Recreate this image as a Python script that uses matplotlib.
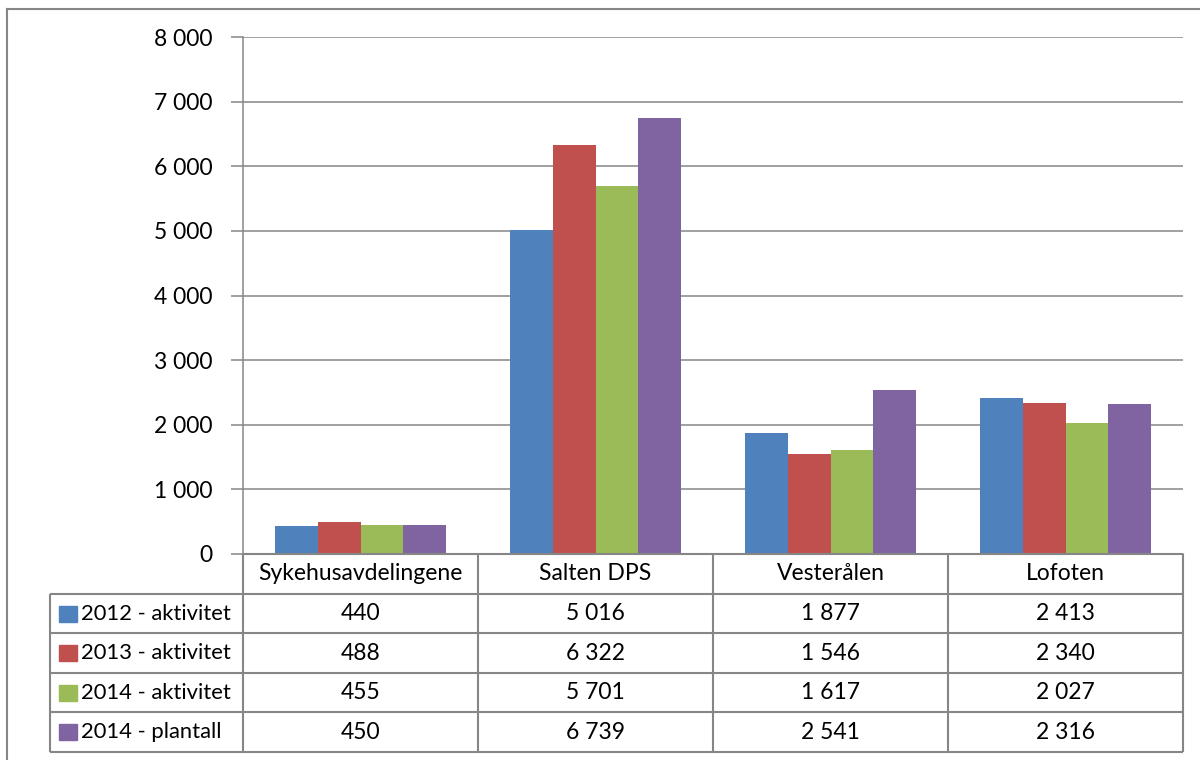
import matplotlib.pyplot as plt
from matplotlib.patches import Rectangle
from matplotlib.lines import Line2D

categories = ["Sykehusavdelingene", "Salten DPS", "Vesterålen", "Lofoten"]
series_names = ["2012 - aktivitet", "2013 - aktivitet", "2014 - aktivitet", "2014 - plantall"]
akt_2012 = [440, 5016, 1877, 2413]
akt_2013 = [488, 6322, 1546, 2340]
akt_2014 = [455, 5701, 1617, 2027]
plan_2014 = [450, 6739, 2541, 2316]
yticks = [0, 1000, 2000, 3000, 4000, 5000, 6000, 7000, 8000]

series = [akt_2012, akt_2013, akt_2014, plan_2014]
colors = ["#4F81BD", "#C0504D", "#9BBB59", "#8064A2"]
grid_col = "#868686"
plt.rcParams["font.family"] = ["Lato", "DejaVu Sans"]
FS = 16.5


def fmt(v):
    return f"{v:,}".replace(",", " ")


W, H = 1200, 760
fig = plt.figure(figsize=(12, 7.6), dpi=100)


def fx(px):
    return px / W


def fy(py):
    return 1 - py / H


# plot area and table geometry in pixels
x0, x1 = 243, 1183
ytop, ybot = 37, 554
leg_left = 50
row_h = 39.5
head_h = 40

ax = fig.add_axes([fx(x0), fy(ybot), (x1 - x0) / W, (ybot - ytop) / H])
n = len(series)
w = 1 / 5.5
for i, (vals, c) in enumerate(zip(series, colors)):
    xs = [k + (i - (n - 1) / 2) * w for k in range(len(categories))]
    ax.bar(xs, vals, width=w, color=c, edgecolor="none", zorder=3)

ax.set_xlim(-0.5, len(categories) - 0.5)
ax.set_ylim(0, 8000)
ax.set_yticks(yticks)
ax.set_yticklabels([fmt(t) for t in yticks], fontsize=FS)
ax.set_xticks([])
ax.yaxis.grid(True, color=grid_col, linewidth=1.1, zorder=0)
ax.tick_params(axis="y", length=9, width=1.1, color=grid_col, pad=13)
for s in ["top", "right"]:
    ax.spines[s].set_visible(False)
for s in ["left", "bottom"]:
    ax.spines[s].set_color(grid_col)
    ax.spines[s].set_linewidth(1.1)

# data table below the plot
tab_bot = ybot + head_h + row_h * n
tab = fig.add_axes([fx(leg_left), fy(tab_bot), (x1 - leg_left) / W, (tab_bot - ybot) / H])
tab.set_xlim(leg_left, x1)
tab.set_ylim(tab_bot, ybot)
tab.axis("off")

col_w = (x1 - x0) / len(categories)
col_edges = [x0 + k * col_w for k in range(len(categories) + 1)]
row_edges = [ybot + head_h + r * row_h for r in range(n + 1)]
lkw = dict(color=grid_col, linewidth=1.5, clip_on=False, solid_capstyle="butt")

tab.plot([x0, x1], [ybot, ybot], **lkw)
for y in row_edges:
    tab.plot([leg_left, x1], [y, y], **lkw)
for x in col_edges:
    tab.plot([x, x], [ybot, tab_bot], **lkw)
tab.plot([leg_left, leg_left], [row_edges[0], tab_bot], **lkw)

for k, cat in enumerate(categories):
    tab.text(x0 + (k + 0.5) * col_w, ybot + head_h / 2, cat,
             ha="center", va="center", fontsize=FS)

for r, (name, vals, c) in enumerate(zip(series_names, series, colors)):
    yc = row_edges[r] + row_h / 2
    tab.add_patch(Rectangle((59, yc - 8), 18, 16, color=c, clip_on=False))
    tab.text(81, yc, name, ha="left", va="center", fontsize=FS - 0.7)
    for k, v in enumerate(vals):
        tab.text(x0 + (k + 0.5) * col_w, yc, fmt(v),
                 ha="center", va="center", fontsize=FS)

# chart frame
fig.add_artist(Line2D([fx(7), fx(7)], [fy(9), 0], transform=fig.transFigure,
                      color=grid_col, linewidth=1.5))
fig.add_artist(Line2D([fx(7), 1], [fy(9), fy(9)], transform=fig.transFigure,
                      color=grid_col, linewidth=1.5))

fig.savefig("out.png", dpi=100)
